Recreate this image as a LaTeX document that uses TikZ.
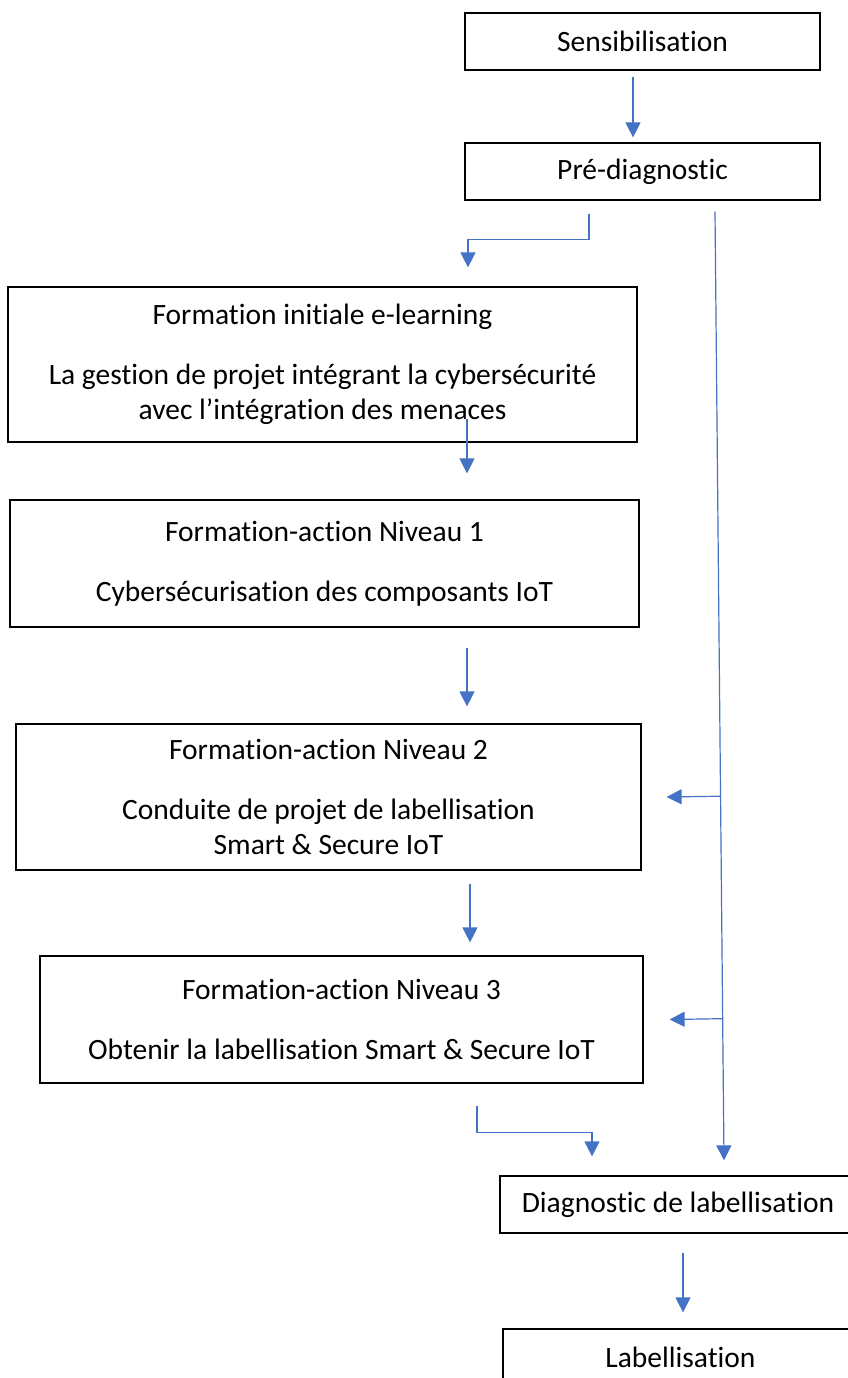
\documentclass[tikz,border=0pt]{standalone}
\usepackage{fontspec}
\setmainfont[Ligatures={NoCommon,NoRare},Contextuals={NoAlternate}]{Carlito}
\usetikzlibrary{arrows.meta,calc}
\definecolor{flowblue}{RGB}{68,114,196}
\tikzset{
  stage/.style={draw, line width=1.2pt, inner sep=0pt, align=center,
    font=\fontsize{29.5}{35.5}\selectfont},
  flow/.style={draw=flowblue, line width=1.2pt, -{Triangle[width=15pt,length=15pt]}}
}

\begin{document}
\begin{tikzpicture}[x=1pt, y=-1pt]
  \useasboundingbox (0,0) rectangle (848,1378);
  % boxes
  \node (sens) [stage, minimum width=355pt, minimum height=57pt] at (642.5,41.5) {Sensibilisation};
  \node (pre) [stage, minimum width=355pt, minimum height=57pt] at (642.5,171.5) {Pré-diagnostic};
  \node (init) [stage, minimum width=629pt, minimum height=155pt] at (322.5,364.5)
    {Formation initiale e-learning\\[24.5pt] La gestion de projet intégrant la cybersécurité\\ avec l’intégration des menaces};
  \node (niv1) [stage, minimum width=629pt, minimum height=127pt] at (324.5,563.5)
    {Formation-action Niveau 1\\[24.5pt] Cybersécurisation des composants IoT};
  \node (niv2) [stage, minimum width=625pt, minimum height=146pt] at (328.5,797)
    {Formation-action Niveau 2\\[24.5pt] Conduite de projet de labellisation\\ Smart \& Secure IoT};
  \node (niv3) [stage, minimum width=603pt, minimum height=127pt] at (341.5,1019.5)
    {Formation-action Niveau 3\\[24.5pt] Obtenir la labellisation Smart \& Secure IoT};
  \node (diag) [stage, minimum width=356pt, minimum height=57pt] at (678,1204.5) {Diagnostic de labellisation};
  \node (label) [stage, minimum width=355pt, minimum height=57pt] at (680.5,1357.5) {Labellisation};

  % long line on the right
  \coordinate (vtop) at ($(pre.south)+(72.5,11)$);
  \coordinate (vbot) at ($(diag.north)+(46,-15)$);

  % arrows
  \draw[flow] ($(sens.south)+(-9.5,6)$) -- ($(pre.north)+(-9.5,-5)$);
  \draw[flow] ($(pre.south)+(-53.5,13)$) -- ++(0,26) -| ($(init.north)+(145.5,-19)$);
  \draw[flow] (vtop) -- (vbot);
  \draw[flow] ($(init.south)+(144.5,-24)$) -- ($(niv1.north)+(142.5,-26)$);
  \draw[flow] ($(niv1.south)+(142.5,20)$) -- ($(niv2.north)+(138.5,-17)$);
  \draw[flow] ($(niv2.south)+(141.5,13)$) -- ($(niv3.north)+(128.5,-13)$);
  \draw[flow] ($(vtop)!(niv2.east)!(vbot)$) -- ($(niv2.east)+(25,0)$);
  \draw[flow] ($(vtop)!(niv3.east)!(vbot)$) -- ($(niv3.east)+(26,0)$);
  \draw[flow] ($(niv3.south)+(135.5,22)$) -- ++(0,27) -| ($(diag.north)+(-86,-19)$);
  \draw[flow] ($(diag.south)+(5,19)$) -- ($(label.north)+(2.5,-16)$);
\end{tikzpicture}
\end{document}
